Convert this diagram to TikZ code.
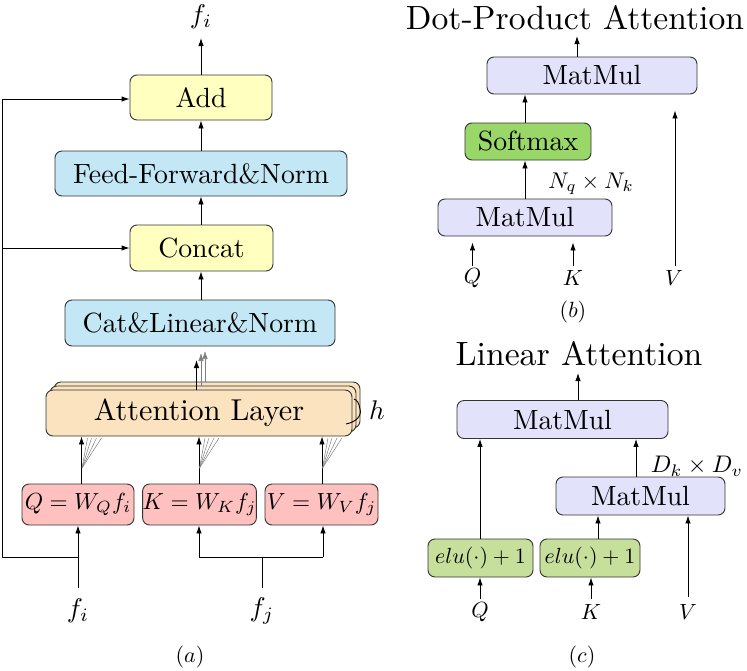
\RequirePackage{fix-cm}
\documentclass[tikz,border=0pt]{standalone}
\usepackage{graphicx}
\usetikzlibrary{arrows.meta}
\definecolor{cyel}{HTML}{FFFFC0}
\definecolor{cblu}{HTML}{C4E7F6}
\definecolor{cora}{HTML}{FAE3BE}
\definecolor{cpnk}{HTML}{FFC0C0}
\definecolor{clav}{HTML}{E2E2FB}
\definecolor{csft}{HTML}{99D868}
\definecolor{celu}{HTML}{C6E09C}
\newcommand{\tx}[2]{\scalebox{#1}{\fontsize{10}{12}\selectfont #2}}
\tikzset{
  box/.style={draw=black!80, rounded corners=7pt, line width=0.9pt, inner sep=0pt, anchor=center},
  arr/.style={-{Latex[length=8pt,width=5.5pt]}, line width=0.9pt},
  ln/.style={line width=0.9pt},
  gar/.style={-{Latex[length=8pt,width=5.5pt]}, line width=0.6pt, gray},
  gln/.style={line width=0.5pt, gray},
  lbl/.style={inner sep=0pt, anchor=center},
}
\begin{document}
\begin{tikzpicture}[x=1pt,y=-1pt]
\useasboundingbox (0,0) rectangle (747,670);
% ---------------- panel (a)
\node[box, fill=cyel, minimum width=142pt, minimum height=45pt] (add) at (201,97.5) {\tx{2.78}{Add}};
\node[box, fill=cblu, minimum width=292pt, minimum height=45pt] (ff) at (201,173.5) {\tx{2.78}{Feed-Forward\&Norm}};
\node[box, fill=cyel, minimum width=143pt, minimum height=46pt] (concat) at (201.5,248) {\tx{2.78}{Concat}};
\node[box, fill=cblu, minimum width=270pt, minimum height=46pt] (cat) at (200,323) {\tx{2.78}{Cat\&Linear\&Norm}};
\node[box, fill=cora, minimum width=306pt, minimum height=46pt] (att3) at (207,405) {};
\node[box, fill=cora, minimum width=306pt, minimum height=46pt] (att2) at (203,409) {};
\node[box, fill=cora, minimum width=306pt, minimum height=46pt] (att) at (199,413) {\tx{3.02}{Attention Layer}};
\node[lbl] (h) at (377,410) {\tx{2.7}{$h$}};
\draw[ln] (346,424) .. controls (356,422) and (362,416) .. (360,409) .. controls (359,403) and (357,400) .. (354,399);
\node[box, fill=cpnk, minimum width=112pt, minimum height=41pt] (q) at (78,504.5) {\tx{2.33}{$Q=W_Qf_i$}};
\node[box, fill=cpnk, minimum width=113pt, minimum height=41pt] (k) at (199.5,504.5) {\tx{2.33}{$K=W_Kf_j$}};
\node[box, fill=cpnk, minimum width=113pt, minimum height=41pt] (v) at (321.5,504.5) {\tx{2.33}{$V=W_Vf_j$}};
\node[lbl] (fo) at (201,17) {\tx{2.7}{$f_i$}};
\node[lbl] (fi) at (78,611) {\tx{2.7}{$f_i$}};
\node[lbl] (fj) at (262,611) {\tx{2.7}{$f_j$}};
\node[lbl] (la) at (190,657) {\tx{2.2}{$(a)$}};
\coordinate (fitop) at (78,588);
\coordinate (fjtop) at (262,588);
\coordinate (fisplit) at (78,557);
\coordinate (fjsplit) at (262,557);
\coordinate (left) at (2,557);
\coordinate (kin) at (199,557);
\coordinate (vin) at (323,557);
% main stack arrows
\draw[arr] (add.north) -- (add.north |- 0,38);
\draw[arr] (ff.north) -- (add.south);
\draw[arr] (concat.north -| ff.north) -- (ff.south);
\draw[arr] (cat.north -| ff.north) -- (concat.south -| ff.north);
% attention outputs
\draw[gar] (205,382) -- (205,351);
\draw[gar] (201,386) -- (201,353);
\draw[arr] (196.5,390) -- (196.5,360);
% qkv to attention
\foreach \n/\x in {q/81.5,k/199,v/322}{
  \draw[arr] (\n.north -| \x,0) -- (att.south -| \x,0);
  \foreach \d in {6,10,15,20}{ \draw[gln] (\x+0.5,468) -- (\x+\d,438); }
}
% inputs
\draw[arr] (fitop) -- (q.south);
\draw[ln] (fisplit) -- (left) -- (2,99);
\draw[arr] (2,99) -- (add.west |- 0,99);
\draw[arr] (2,248) -- (concat.west);
\draw[ln] (fjtop) -- (fjsplit);
\draw[ln] (kin) -- (vin);
\draw[arr] (kin) -- (kin |- k.south);
\draw[arr] (vin) -- (vin |- v.south);
% ---------------- panel (b)
\node[lbl] (tb) at (575,18) {\tx{3.36}{Dot-Product Attention}};
\node[box, fill=clav, minimum width=210pt, minimum height=37pt] (mm1) at (592,75.5) {\tx{2.78}{MatMul}};
\node[box, fill=csft, minimum width=126pt, minimum height=37pt] (sm) at (528,141.5) {\tx{2.78}{Softmax}};
\node[box, fill=clav, minimum width=174pt, minimum height=37pt] (mm2) at (525,217.5) {\tx{2.78}{MatMul}};
\node[lbl] (qb) at (472.5,278) {\tx{2.2}{$Q$}};
\node[lbl] (kb) at (573,278) {\tx{2.2}{$K$}};
\node[lbl] (vb) at (674,278) {\tx{2.2}{$V$}};
\node[lbl] (nqk) at (591,184) {\tx{2.27}{$N_q\times N_k$}};
\node[lbl] (lb) at (573,312) {\tx{2.2}{$(b)$}};
\draw[arr] (mm1.north -| 577,0) -- (577,36);
\draw[arr] (sm.north -| 525,0) -- (mm1.south -| 525,0);
\draw[arr] (mm2.north -| 525,0) -- (sm.south -| 525,0);
\draw[arr, shorten >=6pt] (472.5,266) -- (mm2.south -| 472.5,0);
\draw[arr, shorten >=6pt] (573,266) -- (mm2.south -| 573,0);
\draw[arr, shorten >=16pt] (675,266) -- (mm1.south -| 675,0);
% ---------------- panel (c)
\node[lbl] (tc) at (579,354) {\tx{3.37}{Linear Attention}};
\node[box, fill=clav, minimum width=211pt, minimum height=38pt] (mm3) at (562.5,419.5) {\tx{2.78}{MatMul}};
\node[box, fill=clav, minimum width=169pt, minimum height=38pt] (mm4) at (640.5,496) {\tx{2.78}{MatMul}};
\node[box, fill=celu, minimum width=105pt, minimum height=38pt] (eq) at (480.5,558) {\tx{2.19}{$elu(\cdot)+1$}};
\node[box, fill=celu, minimum width=100pt, minimum height=38pt] (ek) at (590,558) {\tx{2.19}{$elu(\cdot)+1$}};
\node[lbl] (qc) at (480,612) {\tx{2.2}{$Q$}};
\node[lbl] (kc) at (591,612) {\tx{2.2}{$K$}};
\node[lbl] (vc) at (688,612) {\tx{2.2}{$V$}};
\node[lbl] (dkv) at (697,466) {\tx{2.4}{$D_k\times D_v$}};
\node[lbl] (lc) at (582,657) {\tx{2.2}{$(c)$}};
\draw[arr] (mm3.north -| 578,0) -- (578,373);
\draw[arr] (eq.north -| 480,0) -- (mm3.south -| 480,0);
\draw[arr] (mm4.north -| 636,0) -- (mm3.south -| 636,0);
\draw[arr] (ek.north -| 598,0) -- (mm4.south -| 598,0);
\draw[arr] (688,597) -- (mm4.south -| 688,0);
\draw[arr] (480,599) -- (eq.south -| 480,0);
\draw[arr] (591,599) -- (ek.south -| 591,0);
\end{tikzpicture}
\end{document}
